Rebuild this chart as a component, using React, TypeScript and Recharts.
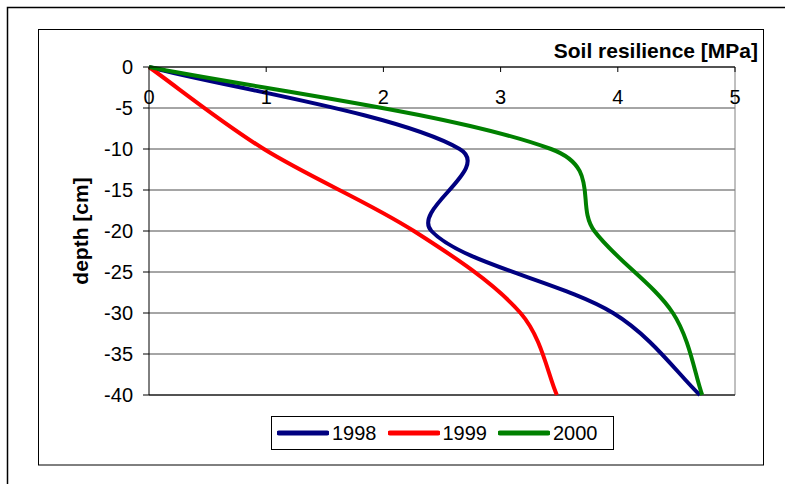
import React from "react";
import { LineChart, Line, XAxis, YAxis, CartesianGrid, ReferenceLine } from "recharts";

const depths = [0, -10, -20, -30, -40];
const res1998 = [0, 2.65, 2.41, 3.96, 4.7];
const res1999 = [0, 0.98, 2.26, 3.17, 3.48];
const res2000 = [0, 3.43, 3.8, 4.47, 4.72];

const xTicks = [0, 1, 2, 3, 4, 5];
const yTicks = [0, -5, -10, -15, -20, -25, -30, -35, -40];

const seriesKeys = ["y1998", "y1999", "y2000"];
const seriesNames = ["1998", "1999", "2000"];
const seriesColors = ["#000080", "#FF0000", "#008000"];

const data = depths.map((d, i) => ({
    depth: d,
    y1998: res1998[i],
    y1999: res1999[i],
    y2000: res2000[i],
}));

const FONT = '"Liberation Sans", Arial, sans-serif';

// Excel-like smoothed line: bezier through the points, control arms partly scaled by segment length
const excelSmooth = (context: any) => {
    let pts: number[][] = [];
    const dist = (a: number[], b: number[]) => Math.hypot(b[0] - a[0], b[1] - a[1]);
    return {
        areaStart() {},
        areaEnd() {},
        lineStart() {
            pts = [];
        },
        lineEnd() {
            const n = pts.length;
            if (!n) return;
            context.moveTo(pts[0][0], pts[0][1]);
            for (let i = 0; i < n - 1; i++) {
                const p0 = pts[Math.max(i - 1, 0)];
                const p1 = pts[i];
                const p2 = pts[i + 1];
                const p3 = pts[Math.min(i + 2, n - 1)];
                const d01 = dist(p0, p1);
                const d12 = dist(p1, p2);
                const d23 = dist(p2, p3);
                const s1 = d01 + d12 > 0 ? d12 / (d01 + d12) / 3 : 0;
                const s2 = d12 + d23 > 0 ? d12 / (d12 + d23) / 3 : 0;
                const f1 = (s1 + 1 / 6) / 2;
                const f2 = (s2 + 1 / 6) / 2;
                context.bezierCurveTo(
                    p1[0] + (p2[0] - p0[0]) * f1,
                    p1[1] + (p2[1] - p0[1]) * f1,
                    p2[0] - (p3[0] - p1[0]) * f2,
                    p2[1] - (p3[1] - p1[1]) * f2,
                    p2[0],
                    p2[1]
                );
            }
        },
        point(x: number, y: number) {
            pts.push([+x, +y]);
        },
    };
};

const TopTick = ({ x, y, payload }: any) => (
    <g>
        {payload.value !== 0 && <line x1={x} y1={y} x2={x} y2={y + 5} stroke="#000" />}
        <text x={x} y={y + 37} textAnchor="middle" fontSize={20} fontFamily={FONT} fill="#000">
            {payload.value}
        </text>
    </g>
);

const LegendBox = () => (
    <div
        style={{
            position: "absolute",
            left: 271,
            top: 416,
            width: 343,
            height: 34,
            boxSizing: "border-box",
            border: "1px solid #000",
            background: "#fff",
            display: "flex",
            alignItems: "center",
            fontFamily: FONT,
            fontSize: 20,
            color: "#000",
        }}
    >
        {seriesNames.map((name, i) => (
            <React.Fragment key={name}>
                <svg width={52} height={8} style={{ marginLeft: i === 0 ? 5 : 11 }}>
                    <line x1={2} y1={4} x2={50} y2={4} stroke={seriesColors[i]} strokeWidth={5} strokeLinecap="round" />
                </svg>
                <span style={{ marginLeft: 3 }}>{name}</span>
            </React.Fragment>
        ))}
    </div>
);

export default function App() {
    return (
        <div style={{ position: "absolute", left: 0, top: 0, width: 785, height: 484, background: "#fff" }}>
            <svg width={785} height={484} style={{ position: "absolute", left: 0, top: 0 }}>
                <rect x={7.5} y={7.5} width={800} height={500} fill="none" stroke="#000" strokeWidth={1.5} />
                <rect x={38.5} y={29.5} width={725} height={435.5} fill="none" stroke="#000" strokeWidth={1} />
            </svg>
            <div style={{ position: "absolute", left: 0, top: 0 }}>
                <LineChart
                    width={785}
                    height={484}
                    data={data}
                    layout="vertical"
                    margin={{ top: 37, right: 50, bottom: 89, left: 80 }}
                >
                    <CartesianGrid horizontal={true} vertical={false} stroke="#4d4d4d" strokeWidth={1} />
                    <ReferenceLine x={5} stroke="#808080" strokeWidth={1} />
                    <ReferenceLine y={-40} stroke="#000" strokeWidth={1} />
                    <XAxis
                        type="number"
                        orientation="top"
                        domain={[0, 5]}
                        ticks={xTicks}
                        height={30}
                        tickSize={0}
                        tickMargin={0}
                        tickLine={false}
                        axisLine={{ stroke: "#000", strokeWidth: 1 }}
                        tick={<TopTick />}
                        interval={0}
                        label={({ viewBox }: any) => (
                            <text
                                x={viewBox.x + viewBox.width + 23}
                                y={viewBox.y + 21}
                                textAnchor="end"
                                fontSize={21}
                                fontWeight="bold"
                                fontFamily={FONT}
                                fill="#000"
                            >
                                Soil resilience [MPa]
                            </text>
                        )}
                    />
                    <YAxis
                        type="number"
                        dataKey="depth"
                        domain={[-40, 0]}
                        reversed={true}
                        ticks={yTicks}
                        width={69}
                        interval={0}
                        tickSize={6}
                        tickMargin={10}
                        tickLine={{ stroke: "#000" }}
                        axisLine={{ stroke: "#000", strokeWidth: 1 }}
                        tick={{ fontSize: 20, fill: "#000", fontFamily: FONT }}
                        label={({ viewBox }: any) => (
                            <text
                                x={viewBox.x}
                                y={viewBox.y + viewBox.height / 2}
                                textAnchor="middle"
                                dominantBaseline="central"
                                transform={`rotate(-90 ${viewBox.x} ${viewBox.y + viewBox.height / 2})`}
                                fontSize={21}
                                fontWeight="bold"
                                fontFamily={FONT}
                                fill="#000"
                            >
                                depth [cm]
                            </text>
                        )}
                    />
                    {seriesKeys.map((key, i) => (
                        <Line
                            key={key}
                            dataKey={key}
                            name={seriesNames[i]}
                            stroke={seriesColors[i]}
                            strokeWidth={4}
                            type={excelSmooth as any}
                            dot={false}
                            activeDot={false}
                            isAnimationActive={false}
                        />
                    ))}
                </LineChart>
            </div>
            <LegendBox />
        </div>
    );
}
